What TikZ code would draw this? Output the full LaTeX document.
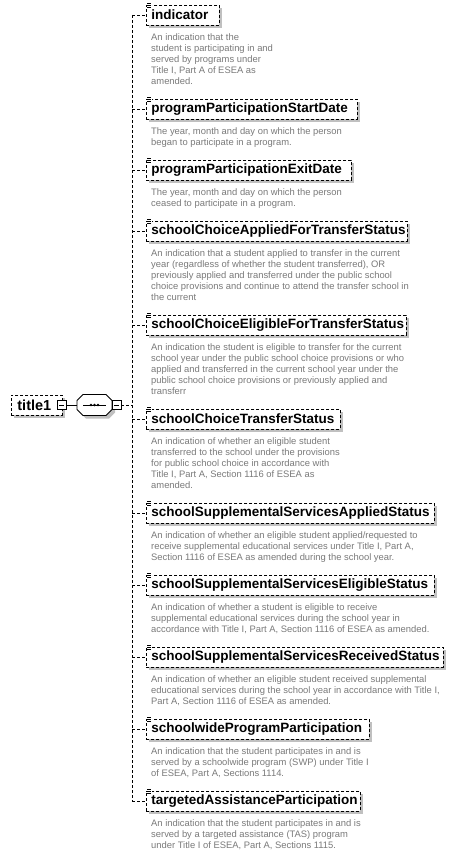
\documentclass[tikz,border=0pt]{standalone}
\usepackage{fontspec}
\setmainfont{Liberation Sans}
\usetikzlibrary{shadows}
\definecolor{descgray}{RGB}{122,122,122}
\definecolor{shadowgray}{RGB}{192,192,192}
\tikzset{
  conn/.style={line width=0.8pt, dash pattern=on 3pt off 2pt},
  elem/.style={draw, line width=0.8pt, dash pattern=on 3pt off 2pt, fill=white,
    minimum height=20pt, inner xsep=5pt, inner ysep=0pt, anchor=west, align=left,
    font=\fontsize{13.5}{14}\selectfont\bfseries,
    general shadow={fill=shadowgray, shadow xshift=3pt, shadow yshift=-3pt}},
  desc/.style={anchor=north west, inner sep=0pt, align=left, text=descgray,
    font=\fontsize{9.4}{11}\selectfont},
  pm/.style={draw, solid, line width=0.8pt, fill=white, minimum size=9pt, inner sep=0pt,
    path picture={\draw[line width=0.8pt] ([xshift=1.8pt]path picture bounding box.west) -- ([xshift=-1.8pt]path picture bounding box.east);}},
  icon/.style={line width=0.6pt}
}
\begin{document}
\begin{tikzpicture}[x=1pt,y=-1pt]
\useasboundingbox (0,0) rectangle (458,856);
\fill[white] (0,0) rectangle (458,856);

% root
\node[elem, text width=39pt, inner xsep=6pt, font=\fontsize{14.5}{15}\selectfont\bfseries] (t) at (11,405) {title1};
\node[pm] (tm) at (61.5,405) {};
\node[minimum width=35pt, minimum height=21pt, inner sep=0pt] (seq) at (94.5,405) {};
\draw[line width=0.8pt, fill=white, general shadow={fill=shadowgray, shadow xshift=3pt, shadow yshift=-3pt}]
  (83,394.5) -- (106,394.5) -- (112,400.5) -- (112,409.5) -- (106,415.5) -- (83,415.5) -- (77,409.5) -- (77,400.5) -- cycle;
\draw[line width=0.8pt] (83,405) -- (106,405);
\foreach \xx in {91,94.5,98} \fill (\xx,405) circle (1.4pt);
\node[pm] (sm) at (116.5,405) {};
\draw[line width=0.8pt] (tm.east) -- (seq.west);
\draw[line width=0.8pt] (seq.east) -- (sm.west);

% elements
\node[elem, text width=63pt]  (e1)  at (146,15)  {indicator};
\node[elem, text width=201pt] (e2)  at (146,109) {programParticipationStartDate};
\node[elem, text width=195pt] (e3)  at (146,170) {programParticipationExitDate};
\node[elem, text width=251pt] (e4)  at (146,231) {schoolChoiceAppliedForTransferStatus};
\node[elem, text width=250pt] (e5)  at (146,325) {schoolChoiceEligibleForTransferStatus};
\node[elem, text width=184pt] (e6)  at (146,419) {schoolChoiceTransferStatus};
\node[elem, text width=278pt] (e7)  at (146,513) {schoolSupplementalServicesAppliedStatus};
\node[elem, text width=278pt] (e8)  at (146,585) {schoolSupplementalServicesEligibleStatus};
\node[elem, text width=287pt] (e9)  at (146,657) {schoolSupplementalServicesReceivedStatus};
\node[elem, text width=213pt] (e10) at (146,729) {schoolwideProgramParticipation};
\node[elem, text width=204pt] (e11) at (146,801) {targetedAssistanceParticipation};

% icons
\foreach \i in {1,...,11}{
  \fill[white] ([xshift=0.6pt,yshift=2pt]e\i.north west) rectangle ([xshift=5.6pt,yshift=-4pt]e\i.north west);
  \foreach \d in {1.2,-0.8,-2.8}
    \draw[icon] ([xshift=1pt,yshift=\d pt]e\i.north west) -- ([xshift=5.4pt,yshift=\d pt]e\i.north west);
}

% connectors
\coordinate (vt) at (132,405);
\foreach \i/\c in {1/15,2/109,3/170,4/231,5/325,6/419,7/513,8/585,9/657,10/729,11/801}
  \coordinate (v\i) at (132,\c);
\draw[conn] (sm.east) -- (vt);
\draw[conn] (v1) -- (v11);
\foreach \i in {1,...,11} \draw[conn] (v\i) -- (e\i.west);

% descriptions
\node[desc] (d1) at (151,33.5) {An indication that the\\student is participating in and\\served by programs under\\Title I, Part A of ESEA as\\amended.};
\node[desc] (d2) at (151,127.5) {The year, month and day on which the person\\began to participate in a program.};
\node[desc] (d3) at (151,188.5) {The year, month and day on which the person\\ceased to participate in a program.};
\node[desc] (d4) at (151,249.5) {An indication that a student applied to transfer in the current\\year (regardless of whether the student transferred), OR\\previously applied and transferred under the public school\\choice provisions and continue to attend the transfer school in\\the current};
\node[desc] (d5) at (151,343.5) {An indication the student is eligible to transfer for the current\\school year under the public school choice provisions or who\\applied and transferred in the current school year under the\\public school choice provisions or previously applied and\\transferr};
\node[desc] (d6) at (151,437.5) {An indication of whether an eligible student\\transferred to the school under the provisions\\for public school choice in accordance with\\Title I, Part A, Section 1116 of ESEA as\\amended.};
\node[desc] (d7) at (151,531.5) {An indication of whether an eligible student applied/requested to\\receive supplemental educational services under Title I, Part A,\\Section 1116 of ESEA as amended during the school year.};
\node[desc] (d8) at (151,603.5) {An indication of whether a student is eligible to receive\\supplemental educational services during the school year in\\accordance with Title I, Part A, Section 1116 of ESEA as amended.};
\node[desc] (d9) at (151,675.5) {An indication of whether an eligible student received supplemental\\educational services during the school year in accordance with Title I,\\Part A, Section 1116 of ESEA as amended.};
\node[desc] (d10) at (151,747.5) {An indication that the student participates in and is\\served by a schoolwide program (SWP) under Title I\\of ESEA, Part A, Sections 1114.};
\node[desc] (d11) at (151,819.5) {An indication that the student participates in and is\\served by a targeted assistance (TAS) program\\under Title I of ESEA, Part A, Sections 1115.};
\end{tikzpicture}
\end{document}
